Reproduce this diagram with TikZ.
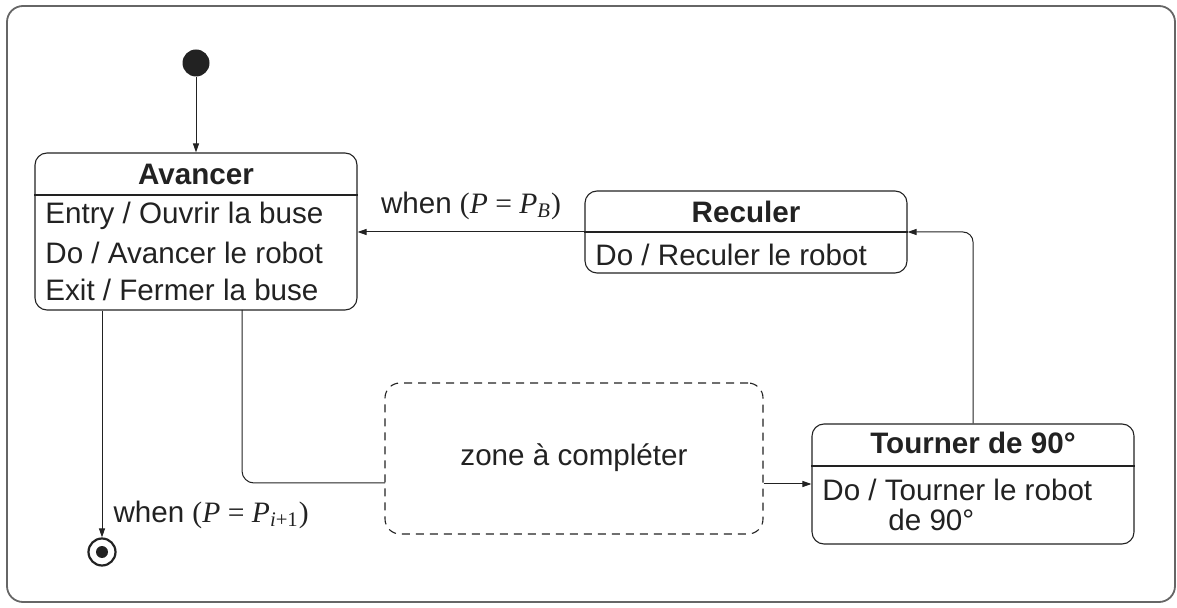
\documentclass[tikz,border=0pt]{standalone}
\usepackage{fontspec}
\setmainfont{Liberation Sans}
\newfontfamily\tms{Liberation Serif}
\usetikzlibrary{arrows.meta,calc}
\definecolor{ink}{HTML}{222222}
\definecolor{frame}{HTML}{666666}
\newcommand{\cond}[1]{when {\tms(\textit{P} = \textit{P}\textsubscript{#1})}}
\begin{document}
\begin{tikzpicture}[x=0.5pt,y=-0.5pt,
  every node/.style={text=ink, font=\fontsize{14.8}{17}\selectfont, inner sep=0pt},
  statebox/.style={draw=ink, line width=0.55pt, rounded corners=6pt, minimum width=161pt},
  zonebox/.style={draw=ink, line width=0.55pt, dashed, dash pattern=on 4pt off 3pt, rounded corners=7.5pt, minimum width=189pt, minimum height=75.5pt},
  title/.style={font=\bfseries\fontsize{14.8}{17}\selectfont},
  body/.style={anchor=west},
  conn/.style={draw=ink, line width=0.5pt},
  arr/.style={conn, -{Triangle[length=4.5pt,width=3pt]}},
  divider/.style={draw=ink, line width=0.55pt}
]
\useasboundingbox (0,0) rectangle (1177,608);
% outer frame
\draw[frame, line width=0.9pt, rounded corners=8pt] (7,6) rectangle (1175,602);

% pseudo-states
\node[circle, fill=ink, minimum size=13.5pt] (init) at (196,63) {};
\node[circle, draw=ink, line width=1.1pt, minimum size=13.5pt] (fin) at (102,552) {};
\node[circle, fill=ink, minimum size=6pt] (findot) at (fin.center) {};

% states
\node[statebox, minimum height=78.5pt] (av) at (196,231.5) {};
\node[statebox, minimum height=41pt] (re) at (746,232) {};
\node[statebox, minimum height=60pt] (to) at (973,484) {};
\node[zonebox] (zone) at (574,458.5) {};

% compartment dividers
\draw[divider] (av.west |- 0,195) -- (av.east |- 0,195);
\draw[divider] (re.west) -- (re.east);
\draw[divider] (to.west |- 0,466) -- (to.east |- 0,466);

% texts
\node[title] (avt) at (196,174) {Avancer};
\node[body] (av1) at (45,216) {Entry / Ouvrir la buse};
\node[body] (av2) at (45,253) {Do / Avancer le robot};
\node[body] (av3) at (45,290) {Exit / Fermer la buse};
\node[title] (ret) at (746,212) {Reculer};
\node[body] (re1) at (595,255) {Do / Reculer le robot};
\node[title] (tot) at (973,443) {Tourner de 90°};
\node[body] (to1) at (822,490) {Do / Tourner le robot};
\node[body] (to2) at (888,520) {de 90°};
\node (zt) at (574,458) {zone à compléter};

% transitions
\draw[arr] (init) -- (av.north);
\draw[arr] (re.west) -- (av.east |- re.west)
  node[pos=0.5, above=6pt] (lb) {\cond{\textit{B}}};
\draw[arr, rounded corners=5pt] (to.north) |- (re.east);
\draw[arr] (av.south -| fin.north) -- (fin.north)
  node[pos=0.9, anchor=west, xshift=5.5pt] (li) {\cond{\textit{i}+1}};
\coordinate (avout) at (242,310);
\coordinate (zin) at (385,483);
\draw[conn, rounded corners=6pt] (avout) |- (zin);
\draw[arr] (zone.east |- to.west) -- (to.west);
\end{tikzpicture}
\end{document}
